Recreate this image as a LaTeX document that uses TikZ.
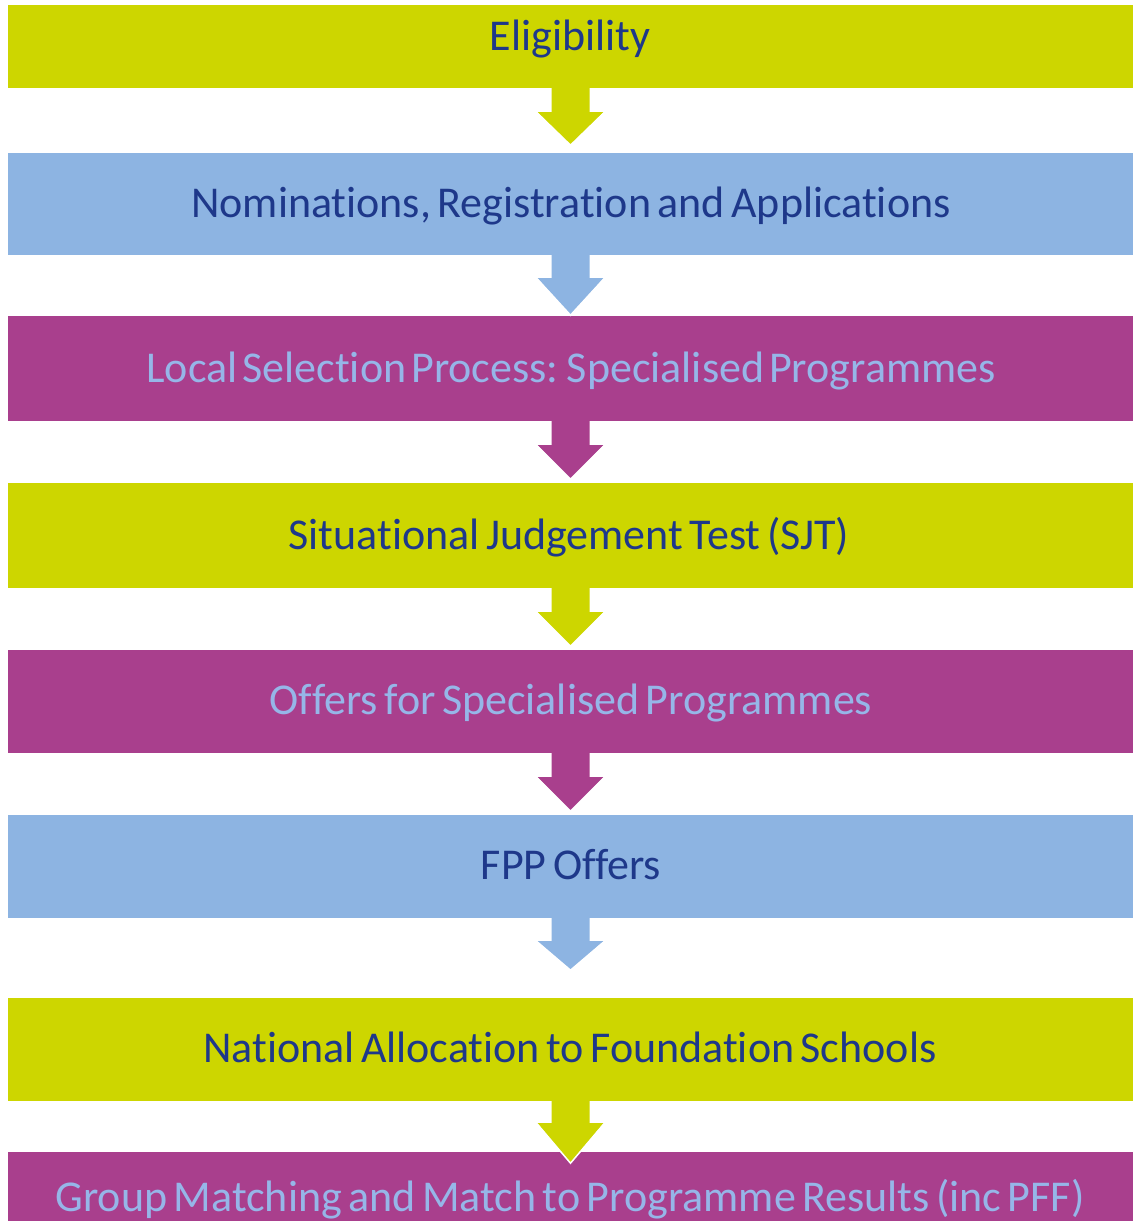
\documentclass[tikz,border=0pt]{standalone}
\usepackage{fontspec}
\setmainfont{Carlito}[Ligatures=NoCommon]
\usetikzlibrary{calc}
\definecolor{cgreen}{RGB}{205,214,0}
\definecolor{cblue}{RGB}{141,180,226}
\definecolor{cmag}{RGB}{169,63,141}
\definecolor{tdark}{RGB}{30,56,138}
\definecolor{tlight}{RGB}{150,182,232}
\newcommand{\lblfont}{\fontsize{44}{44}\selectfont\spaceskip=6.5pt\relax}
\newcommand{\tightfont}{\fontsize{44}{44}\selectfont\spaceskip=5pt\relax}
\tikzset{
  bar/.style={rectangle, draw=none, inner sep=0pt, minimum width=1125pt},
  lbl/.style={anchor=base, inner sep=0pt, font=\lblfont},
  tight/.style={font=\tightfont},
}
\newcommand{\flowarrow}[5]{% from, color, shaft, head, name
  \fill[#2] ($(#1.south)+(-19,-1)$) -- ($(#1.south)+(-19,#3)$) -- ($(#1.south)+(-33,#3)$)
     -- ($(#1.south)+(0,#3+#4)$) coordinate (#5) -- ($(#1.south)+(33,#3)$) -- ($(#1.south)+(19,#3)$)
     -- ($(#1.south)+(19,-1)$) -- cycle;
  \draw[white, line width=1.5pt, line join=miter] ($(#1.south)+(-33.5,#3+0.5)$) -- (#5) -- ($(#1.south)+(33.5,#3+0.5)$);
}
\begin{document}
\begin{tikzpicture}[x=1pt,y=-1pt]
\useasboundingbox (0,0) rectangle (1133,1223);
\fill[white] (0,0) rectangle (1133,1223);
% bars
\node[bar, fill=cgreen, minimum height=83pt]  (b1) at (570.5,46.5) {};
\node[bar, fill=cblue,  minimum height=102pt] (b2) at (570.5,204) {};
\node[bar, fill=cmag,   minimum height=105pt] (b3) at (570.5,368.5) {};
\node[bar, fill=cgreen, minimum height=105pt] (b4) at (570.5,535.5) {};
\node[bar, fill=cmag,   minimum height=103pt] (b5) at (570.5,701.5) {};
\node[bar, fill=cblue,  minimum height=103pt] (b6) at (570.5,866.5) {};
\node[bar, fill=cgreen, minimum height=103pt] (b7) at (570.5,1049.5) {};
\node[bar, fill=cmag,   minimum height=69pt]  (b8) at (570.5,1186.5) {};
% arrows
\flowarrow{b1}{cgreen}{24}{33}{t1}
\flowarrow{b2}{cblue}{23}{37}{t2}
\flowarrow{b3}{cmag}{24}{34}{t3}
\flowarrow{b4}{cgreen}{24}{34}{t4}
\flowarrow{b5}{cmag}{24}{34}{t5}
\flowarrow{b6}{cblue}{23}{29}{t6}
\flowarrow{b7}{cgreen}{22}{40}{t7}
% labels
\node[lbl, text=tdark] (l1) at (570,51) {Eligibility};
\node[lbl, text=tdark] (l2) at (571,217) {Nominations, Registration and Applications};
\node[lbl, tight, text=tlight] (l3) at (571,382) {Local Selection Process: Specialised Programmes};
\node[lbl, text=tdark] (l4) at (569,549) {Situational Judgement Test (SJT)};
\node[lbl, text=tlight] (l5) at (571,714) {Offers for Specialised Programmes};
\node[lbl, text=tdark] (l6) at (571,879) {FPP Offers};
\node[lbl, text=tdark] (l7) at (570,1062) {National Allocation to Foundation Schools};
\node[lbl, text=tlight] (l8) at (570,1211) {Group Matching and Match to Programme Results (inc PFF)};
\end{tikzpicture}
\end{document}
